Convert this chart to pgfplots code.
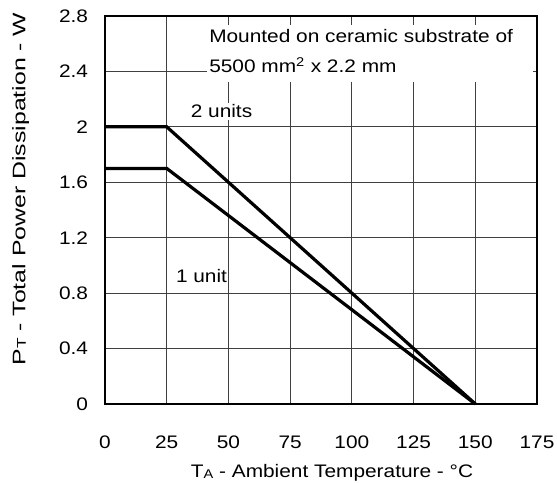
\documentclass[border=0pt]{standalone}
\usepackage{pgfplots}
\pgfplotsset{compat=1.18}
\usepackage{fontspec}
\setmainfont[FakeStretch=1.15]{Liberation Sans}
\newfontfamily\ylabfont[FakeStretch=1.37]{Liberation Sans}

\newcommand{\sub}[1]{\raisebox{-0.3pt}{\fontsize{9.5}{10}\selectfont #1}}

\begin{document}
\fontsize{13.6}{16}\selectfont
\begin{tikzpicture}
\begin{axis}[
  scale only axis,
  width=324pt, height=291pt,
  xmin=0, xmax=175, ymin=0, ymax=2.8,
  xtick={0,25,50,75,100,125,150,175},
  ytick={0,0.4,0.8,1.2,1.6,2.0,2.4,2.8},
  /pgf/number format/assume math mode=true,
  major tick length=0pt,
  grid=major,
  major grid style={draw=black!75, line width=0.7pt},
  axis line style={line width=1.5pt},
  xticklabel style={inner sep=0pt, yshift=-24pt},
  yticklabel style={inner sep=0pt, xshift=-12.5pt},
  xlabel={T\sub{A} - Ambient Temperature - °C},
  ylabel={\ylabfont P\sub{T} - Total Power Dissipation - W},
  xlabel style={at={(rel axis cs:0.5255,-0.1907)}, anchor=base, inner sep=0pt},
  ylabel style={at={(rel axis cs:-0.195,0.554)}, anchor=center, inner sep=0pt},
  clip=false,
]
% page extent
\path (rel axis cs:-0.2431,-0.2036) rectangle (rel axis cs:1.0463,1.0412);

% mounting note on a white panel over the grid
\fill[white] (rel axis cs:0.236,0.830) rectangle (rel axis cs:0.991,0.977);
\node[anchor=base west, inner sep=0pt] at (rel axis cs:0.2407,0.9304)
  {Mounted on ceramic substrate of};
\node[anchor=base west, inner sep=0pt] at (rel axis cs:0.2407,0.8531)
  {5500 mm\textsuperscript{2} x 2.2 mm};

% derating curves
\addplot[black, line width=2.4pt, line join=miter] coordinates {(0,2.0) (25,2.0) (150,0)};
\addplot[black, line width=2.4pt, line join=miter] coordinates {(0,1.7) (25,1.7) (150,0)};

\node[fill=white, anchor=base, inner sep=1.5pt] at (axis cs:47.2,2.064) {2 units};
\node[fill=white, anchor=base, inner sep=1pt] at (axis cs:39.1,0.880) {1 unit};
\end{axis}
\end{tikzpicture}
\end{document}
